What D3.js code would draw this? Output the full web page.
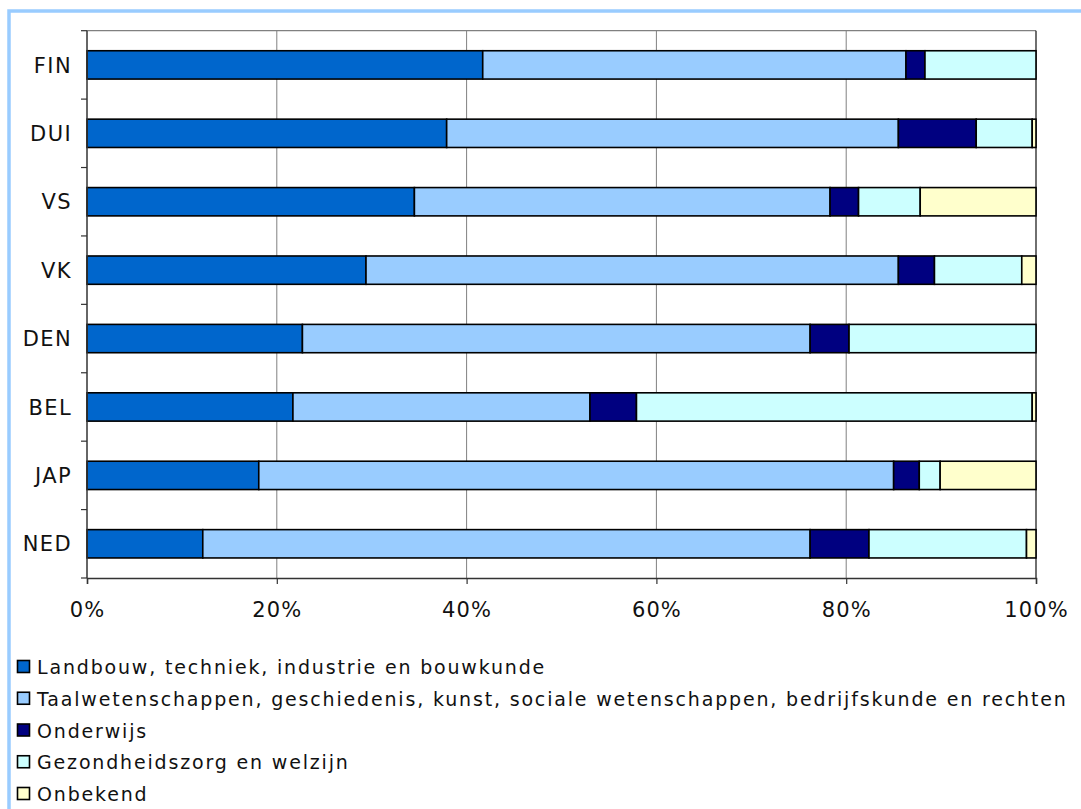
<!DOCTYPE html>
<html>
<head>
<meta charset="utf-8">
<script src="https://cdn.jsdelivr.net/npm/d3@7"></script>
<style>
  html, body { margin: 0; padding: 0; background: #ffffff; }
  svg { display: block; }
  text { font-family: "DejaVu Sans", Verdana, sans-serif; fill: #111; }
</style>
</head>
<body>
<svg id="chart" width="1081" height="809"></svg>
<script>
// ---- data (percent shares per country) ----
const categories = ["FIN", "DUI", "VS", "VK", "DEN", "BEL", "JAP", "NED"];
const seriesNames = [
  "Landbouw, techniek, industrie en bouwkunde",
  "Taalwetenschappen, geschiedenis, kunst, sociale wetenschappen, bedrijfskunde en rechten",
  "Onderwijs",
  "Gezondheidszorg en welzijn",
  "Onbekend"
];
const landbouw  = [41.7, 37.9, 34.5, 29.4, 22.7, 21.7, 18.1, 12.2];
const taal      = [44.6, 47.6, 43.8, 56.1, 53.5, 31.3, 66.9, 64.0];
const onderwijs = [ 2.0,  8.2,  3.0,  3.8,  4.1,  4.9,  2.7,  6.2];
const gezond    = [11.7,  5.9,  6.5,  9.2, 19.7, 41.7,  2.2, 16.6];
const onbekend  = [ 0.0,  0.4, 12.2,  1.5,  0.0,  0.4, 10.1,  1.0];
const xTicks = [0, 0.2, 0.4, 0.6, 0.8, 1.0];
const colors = ["#0066CC", "#99CCFF", "#000080", "#CCFFFF", "#FFFFCC"];

const seriesValues = [landbouw, taal, onderwijs, gezond, onbekend];
const keys = seriesNames;
const rows = categories.map((c, i) => {
  const r = { cat: c };
  keys.forEach((k, j) => r[k] = seriesValues[j][i]);
  return r;
});

const svg = d3.select("#chart");

// outer frame (light blue)
svg.append("rect")
  .attr("x", 9).attr("y", 11)
  .attr("width", 1200).attr("height", 1000)
  .attr("fill", "#ffffff")
  .attr("stroke", "#99CCFF").attr("stroke-width", 3.5);

const plot = { left: 87, right: 1036, top: 30.7, bottom: 578 };

const x = d3.scaleLinear().domain([0, 1]).range([plot.left, plot.right]);
const y = d3.scaleBand().domain(categories)
  .range([plot.top, plot.bottom])
  .paddingInner(0.586).paddingOuter(0.293);

const stack = d3.stack().keys(keys).offset(d3.stackOffsetExpand);
const stacked = stack(rows);

// gridlines
svg.append("g").selectAll("line")
  .data(xTicks.filter(t => t > 0 && t < 1))
  .join("line")
  .attr("x1", d => x(d)).attr("x2", d => x(d))
  .attr("y1", plot.top).attr("y2", plot.bottom)
  .attr("stroke", "#808080").attr("stroke-width", 1);

// plot top border
svg.append("line")
  .attr("x1", plot.left).attr("x2", plot.right)
  .attr("y1", plot.top).attr("y2", plot.top)
  .attr("stroke", "#808080").attr("stroke-width", 1.2);
// right border
svg.append("line")
  .attr("x1", x(1)).attr("x2", x(1))
  .attr("y1", plot.top).attr("y2", plot.bottom)
  .attr("stroke", "#222").attr("stroke-width", 1.3);

// bars
svg.append("g").selectAll("g")
  .data(stacked)
  .join("g")
  .attr("fill", (d, i) => colors[i])
  .selectAll("rect")
  .data(d => d)
  .join("rect")
  .attr("x", d => x(d[0]))
  .attr("width", d => Math.max(0, x(d[1]) - x(d[0])))
  .attr("y", d => y(d.data.cat))
  .attr("height", y.bandwidth())
  .attr("stroke", d => (d[1] - d[0]) > 0 ? "#000" : "none")
  .attr("stroke-width", 1.6);

// y axis line and ticks between categories
const yAxisG = svg.append("g");
yAxisG.append("line")
  .attr("x1", plot.left).attr("x2", plot.left)
  .attr("y1", plot.top).attr("y2", plot.bottom)
  .attr("stroke", "#333").attr("stroke-width", 1.5);
const boundaries = d3.range(categories.length + 1).map(i => plot.top + i * y.step());
yAxisG.selectAll("line.tk").data(boundaries).join("line")
  .attr("class", "tk")
  .attr("x1", plot.left - 6).attr("x2", plot.left)
  .attr("y1", d => d).attr("y2", d => d)
  .attr("stroke", "#333").attr("stroke-width", 1.2);
yAxisG.selectAll("text").data(categories).join("text")
  .attr("x", 72)
  .attr("y", d => y(d) + y.bandwidth() / 2 + 7.6)
  .attr("text-anchor", "end")
  .style("font-size", "21px")
  .style("letter-spacing", "1.4px")
  .text(d => d);

// x axis
const xAxis = d3.axisBottom(x).tickValues(xTicks).tickFormat(d3.format(".0%")).tickSize(6);
const xg = svg.append("g").attr("transform", `translate(0,${plot.bottom})`).call(xAxis);
xg.select(".domain").attr("stroke", "#333").attr("stroke-width", 1.5);
xg.selectAll(".tick line").attr("stroke", "#333").attr("stroke-width", 1.2);
xg.selectAll(".tick text")
  .attr("y", 39).attr("dy", 0)
  .attr("fill", "#111")
  .style("font-family", "'DejaVu Sans', Verdana, sans-serif")
  .style("font-size", "21px")
  .style("letter-spacing", "1.1px");

// legend
const legend = svg.append("g");
const legendRowY = d3.scaleLinear().domain([0, 4]).range([667, 794]);
keys.forEach((k, i) => {
  const cy = legendRowY(i);
  legend.append("rect")
    .attr("x", 17.5).attr("y", cy - 6.5)
    .attr("width", 12).attr("height", 12)
    .attr("fill", colors[i])
    .attr("stroke", "#000").attr("stroke-width", 1.6);
  legend.append("text")
    .attr("x", 37).attr("y", cy + 7)
    .style("font-size", "19px")
    .style("letter-spacing", "1.83px")
    .text(k);
});
</script>
</body>
</html>
